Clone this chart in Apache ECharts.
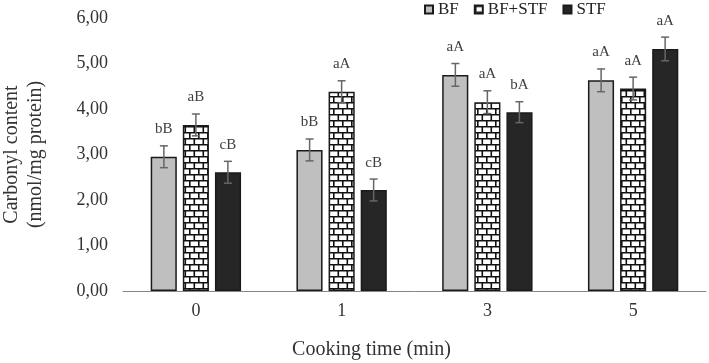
<!DOCTYPE html>
<html>
<head>
<meta charset="utf-8">
<title>Carbonyl content</title>
<script src="https://cdn.jsdelivr.net/npm/echarts@6/dist/echarts.min.js"></script>
<style>
  html, body { margin: 0; padding: 0; background: #fff; }
  #main { width: 709px; height: 363px; }
</style>
</head>
<body>
<div id="main"></div>
<script>
// cooking time categories
var categories = ['0', '1', '3', '5'];
var seriesNames = ['BF', 'BF+STF', 'STF'];

// mean values
var bfValues = [2.95, 3.10, 4.75, 4.63];
var bfStfValues = [3.65, 4.38, 4.15, 4.45];
var stfValues = [2.61, 2.22, 3.93, 5.32];

// standard deviations
var bfErr = [0.24, 0.24, 0.25, 0.25];
var bfStfErr = [0.24, 0.24, 0.25, 0.25];
var stfErr = [0.24, 0.24, 0.23, 0.26];

// significance letters
var bfLetters = ['bB', 'bB', 'aA', 'aA'];
var bfStfLetters = ['aB', 'aA', 'aA', 'aA'];
var stfLetters = ['cB', 'cB', 'bA', 'aA'];

var serif = "'Liberation Serif', 'Times New Roman', serif";

// brick pattern for BF+STF
function brickPattern() {
  var c = document.createElement('canvas');
  c.width = 9; c.height = 12;
  var ctx = c.getContext('2d');
  ctx.fillStyle = '#ffffff';
  ctx.fillRect(0, 0, 9, 12);
  ctx.strokeStyle = '#111111';
  ctx.lineWidth = 1.6;
  ctx.beginPath();
  ctx.moveTo(0, 0.8); ctx.lineTo(9, 0.8);
  ctx.moveTo(0, 6.8); ctx.lineTo(9, 6.8);
  ctx.moveTo(0.8, 0); ctx.lineTo(0.8, 6.8);
  ctx.moveTo(5.3, 6.8); ctx.lineTo(5.3, 12);
  ctx.stroke();
  return c;
}

var allValues = [bfValues, bfStfValues, stfValues];
var allErr = [bfErr, bfStfErr, stfErr];
var allLetters = [bfLetters, bfStfLetters, stfLetters];

var errData = [];
for (var s = 0; s < 3; s++) {
  for (var i = 0; i < categories.length; i++) {
    errData.push([i, allValues[s][i], allErr[s][i], s, allLetters[s][i]]);
  }
}

var dom = document.getElementById('main');
var myChart = echarts.init(dom);

var barBorder = { borderColor: '#1a1a1a', borderWidth: 1.5 };

var option = {
  animation: false,
  backgroundColor: '#ffffff',
  legend: {
    data: seriesNames,
    top: 0,
    left: 419,
    padding: [1, 5, 5, 5],
    itemWidth: 8,
    itemHeight: 8,
    itemGap: 15,
    icon: 'rect',
    textStyle: { fontFamily: serif, fontSize: 17, color: '#222' }
  },
  grid: { left: 123, right: 3, top: 18, bottom: 72, outerBoundsMode: 'none', containLabel: false },
  xAxis: {
    type: 'category',
    data: categories,
    name: 'Cooking time (min)',
    nameLocation: 'middle',
    nameGap: 49,
    nameTextStyle: { fontFamily: serif, fontSize: 20, color: '#333', padding: [0, 86, 0, 0] },
    axisLine: { lineStyle: { color: '#868686', width: 1 } },
    axisTick: { show: false },
    axisLabel: { fontFamily: serif, fontSize: 18, color: '#333', margin: 11 }
  },
  yAxis: {
    type: 'value',
    min: 0,
    max: 6,
    interval: 1,
    name: 'Carbonyl content\n(nmol/mg protein)',
    nameLocation: 'middle',
    nameGap: 75,
    nameTextStyle: { fontFamily: serif, fontSize: 20, color: '#333', lineHeight: 24 },
    axisLine: { show: false },
    axisTick: { show: false },
    splitLine: { show: false },
    axisLabel: {
      fontFamily: serif, fontSize: 18, color: '#333', margin: 15,
      formatter: function (v) { return v.toFixed(2).replace('.', ','); }
    }
  },
  series: [
    {
      name: 'BF', type: 'bar', data: bfValues,
      barCategoryGap: '38%', barGap: '23%',
      itemStyle: Object.assign({ color: '#bfbfbf' }, barBorder)
    },
    {
      name: 'BF+STF', type: 'bar', data: bfStfValues,
      barCategoryGap: '38%', barGap: '23%',
      itemStyle: Object.assign({ color: { image: brickPattern(), repeat: 'repeat' } }, barBorder)
    },
    {
      name: 'STF', type: 'bar', data: stfValues,
      barCategoryGap: '38%', barGap: '23%',
      itemStyle: Object.assign({ color: '#262626' }, barBorder)
    },
    {
      name: 'errors', type: 'custom', data: errData, z: 10,
      renderItem: function (params, api) {
        var cat = api.value(0);
        var val = api.value(1);
        var err = api.value(2);
        var s = api.value(3);
        var band = api.size([1, 0])[0];
        var center = api.coord([cat, val]);
        var x = center[0] + (s - 1) * band * 0.2196;
        var top = api.coord([cat, val + err])[1];
        var bottom = api.coord([cat, val - err])[1];
        var cap = 4;
        var ls = { stroke: '#666666', lineWidth: 1.5 };
        return {
          type: 'group',
          children: [
            { type: 'line', shape: { x1: x, y1: top, x2: x, y2: bottom }, style: ls },
            { type: 'line', shape: { x1: x - cap, y1: top, x2: x + cap, y2: top }, style: ls },
            { type: 'line', shape: { x1: x - cap, y1: bottom, x2: x + cap, y2: bottom }, style: ls },
            {
              type: 'text',
              style: {
                text: errData[params.dataIndex][4],
                x: x, y: top - 9,
                align: 'center', verticalAlign: 'bottom',
                font: '15px ' + serif, fill: '#404040'
              }
            }
          ]
        };
      }
    }
  ]
};

if (option && typeof option === 'object') {
  myChart.setOption(option, true);
}
</script>
</body>
</html>
